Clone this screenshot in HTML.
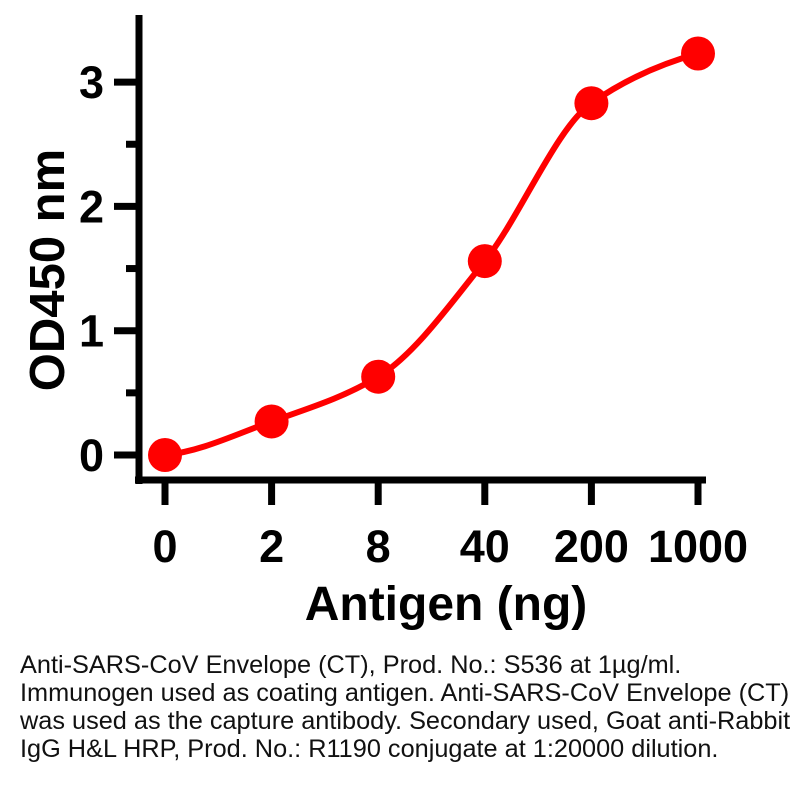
<!DOCTYPE html>
<html><head><meta charset="utf-8"><style>
body{margin:0;background:#fff;width:800px;height:800px;overflow:hidden;font-family:"Liberation Sans",Arial,sans-serif}
#cap{position:absolute;left:20px;top:651px;font-size:25.3px;line-height:28px;color:#111;white-space:nowrap}
</style></head><body>
<svg id="chart" width="800" height="650" style="position:absolute;left:0;top:0"></svg>
<div id="cap">Anti-SARS-CoV Envelope (CT), Prod. No.: S536 at 1µg/ml.<br>Immunogen used as coating antigen. Anti-SARS-CoV Envelope (CT)<br>was used as the capture antibody. Secondary used, Goat anti-Rabbit<br>IgG H&amp;L HRP, Prod. No.: R1190 conjugate at 1:20000 dilution.</div>
<script>
const categories=["0","2","8","40","200","1000"];
const odValues=[0.0,0.27,0.63,1.56,2.83,3.23];
const yTicks=[0,1,2,3];
const yMinor=[0.5,1.5,2.5];
const NS="http://www.w3.org/2000/svg";
const svg=document.getElementById('chart');
const x0=165,dx=106.6;
function xs(i){return x0+i*dx;}
function ys(v){return 455-v*124.3;}
function mk(t,a,p){const e=document.createElementNS(NS,t);for(const k in a)e.setAttribute(k,a[k]);(p||svg).appendChild(e);return e;}
let e;
e=mk('line',{x1:139,y1:15,x2:139,y2:484,stroke:'#000','stroke-width':7});


e=mk('line',{x1:135,y1:480,x2:706,y2:480,stroke:'#000','stroke-width':7});


yTicks.forEach(v=>{
 e=mk('line',{x1:114,y1:ys(v),x2:139,y2:ys(v),stroke:'#000','stroke-width':7});
 
 
 e=mk('text',{x:104,y:ys(v)+16,'text-anchor':'end','font-size':45,'font-weight':'bold'});
 e.textContent=v;
 
 
});
yMinor.forEach(v=>{
 e=mk('line',{x1:126,y1:ys(v),x2:139,y2:ys(v),stroke:'#000','stroke-width':7});
 
 
});
categories.forEach((c,i)=>{
 e=mk('line',{x1:xs(i),y1:480,x2:xs(i),y2:505,stroke:'#000','stroke-width':7});
 
 
 e=mk('text',{x:xs(i),y:562,'text-anchor':'middle','font-size':45,'font-weight':'bold'});
 e.textContent=c;
 
 
});
e=mk('text',{x:446,y:620,'text-anchor':'middle','font-size':48,'font-weight':'bold'});
e.textContent='Antigen (ng)';


e=mk('text',{x:0,y:0,'text-anchor':'middle','font-size':49,'font-weight':'bold',transform:'translate(64,270) rotate(-90)'});
e.textContent='OD450 nm';


// monotone cubic (Fritsch-Carlson)
const P=odValues.map((v,i)=>[xs(i),ys(v)]);
const n=P.length,sl=[],m=[];
for(let i=0;i<n-1;i++)sl.push((P[i+1][1]-P[i][1])/(P[i+1][0]-P[i][0]));
m[0]=sl[0]*0.3;m[n-1]=sl[n-2]*0.6;
for(let i=1;i<n-1;i++)m[i]=sl[i-1]*sl[i]<=0?0:2/(1/sl[i-1]+1/sl[i]);
let d=`M${P[0][0]},${P[0][1]}`;
for(let i=0;i<n-1;i++){
 const h=(P[i+1][0]-P[i][0])/3;
 d+=` C${P[i][0]+h},${P[i][1]+m[i]*h} ${P[i+1][0]-h},${P[i+1][1]-m[i+1]*h} ${P[i+1][0]},${P[i+1][1]}`;
}
e=mk('path',{d:d,fill:'none',stroke:'#f00','stroke-width':6});


P.forEach(p=>{
 e=mk('circle',{cx:p[0],cy:p[1],r:17,fill:'#f00'});
 
 
});
</script>
</body></html>
